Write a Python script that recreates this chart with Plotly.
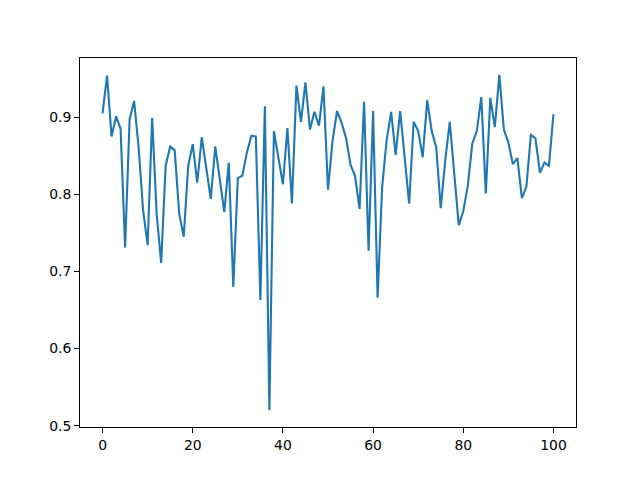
import plotly.graph_objects as go

x_values = list(range(101))
y_values = [
    0.905, 0.954, 0.875, 0.901, 0.885, 0.731, 0.897, 0.921, 0.861, 0.779,
    0.734, 0.899, 0.775, 0.711, 0.837, 0.862, 0.857, 0.775, 0.745, 0.837,
    0.865, 0.815, 0.874, 0.831, 0.794, 0.862, 0.820, 0.777, 0.841, 0.680,
    0.821, 0.824, 0.854, 0.876, 0.875, 0.663, 0.914, 0.520, 0.882, 0.848,
    0.813, 0.886, 0.788, 0.941, 0.894, 0.945, 0.884, 0.907, 0.889, 0.940,
    0.806, 0.869, 0.908, 0.893, 0.873, 0.838, 0.824, 0.781, 0.920, 0.727,
    0.908, 0.666, 0.809, 0.870, 0.907, 0.851, 0.908, 0.848, 0.788, 0.894,
    0.882, 0.848, 0.922, 0.882, 0.861, 0.782, 0.844, 0.894, 0.826, 0.760,
    0.778, 0.811, 0.866, 0.882, 0.926, 0.801, 0.925, 0.887, 0.955, 0.884,
    0.867, 0.839, 0.847, 0.795, 0.810, 0.877, 0.873, 0.828, 0.841, 0.837,
    0.904,
]
x_ticks = [0, 20, 40, 60, 80, 100]
y_ticks = [0.5, 0.6, 0.7, 0.8, 0.9]
y_tick_labels = ["0.5", "0.6", "0.7", "0.8", "0.9"]

ymin, ymax = min(y_values), max(y_values)
pad = (ymax - ymin) * 0.05

fig = go.Figure(go.Scatter(x=x_values, y=y_values, mode="lines",
                           line=dict(color="#1f77b4", width=2.1)))

axis_common = dict(showline=True, linecolor="black", linewidth=1, mirror=True,
                   ticks="outside", ticklen=5, tickwidth=1, tickcolor="black",
                   showgrid=False, zeroline=False,
                   tickfont=dict(family="DejaVu Sans", size=13.9, color="black"))

# page body has an 8px default margin, so the figure is offset by 8px
fig.update_layout(
    width=624, height=464,
    margin=dict(l=72, r=56, t=50, b=45),
    paper_bgcolor="white", plot_bgcolor="white",
    showlegend=False,
    xaxis=dict(range=[-5, 105], tickvals=x_ticks, **axis_common),
    yaxis=dict(range=[ymin - pad, ymax + pad], tickvals=y_ticks,
               ticktext=y_tick_labels, **axis_common),
)

fig.write_html("out.html")
